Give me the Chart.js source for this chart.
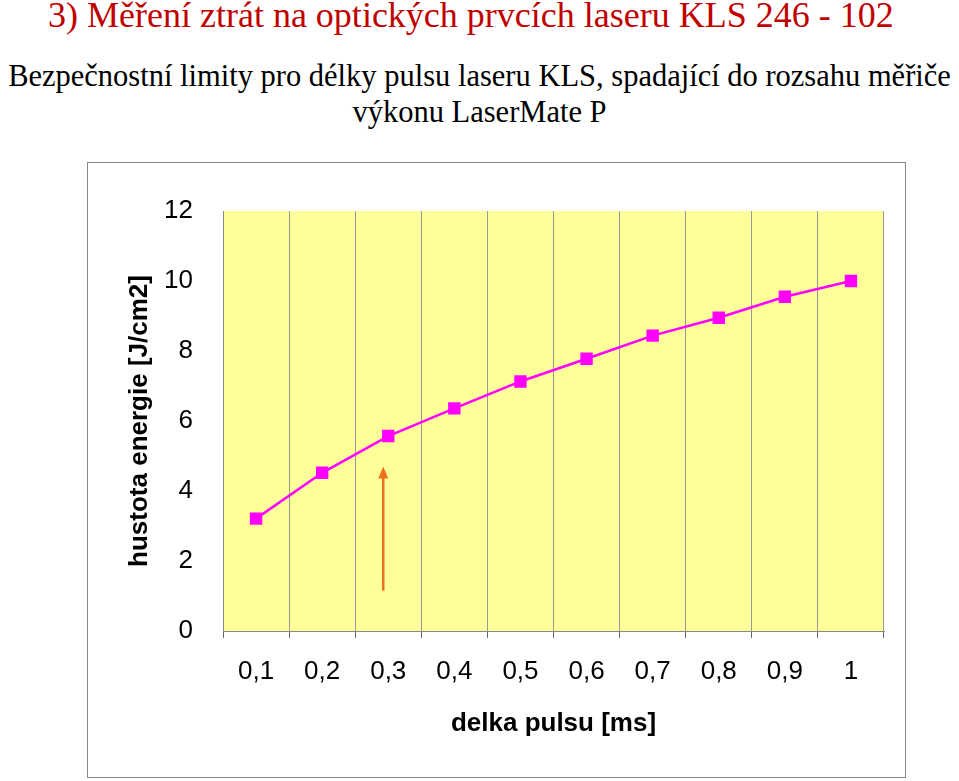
<!DOCTYPE html>
<html>
<head>
<meta charset="utf-8">
<script src="https://cdn.jsdelivr.net/npm/chart.js@4"></script>
<style>
  body { margin: 0; background: #fff; width: 959px; height: 781px; position: relative; overflow: hidden; }
  .title { position: absolute; left: 48px; top: -6px; font: 36px "Liberation Serif", serif; color: #c00000; white-space: nowrap; }
  .sub { position: absolute; left: 0; width: 959px; top: 58px; text-align: center; font: 30.5px/36px "Liberation Serif", serif; color: #000; white-space: nowrap; }
  .box { position: absolute; left: 87px; top: 162px; width: 819px; height: 616px; border: 1px solid #888; box-sizing: border-box; }
</style>
</head>
<body>
<div class="title">3) Měření ztrát na optických prvcích laseru KLS 246 - 102</div>
<div class="sub">Bezpečnostní limity pro délky pulsu laseru KLS, spadající do rozsahu měřiče<br>výkonu LaserMate P</div>
<div class="box"><canvas id="c" width="817" height="614"></canvas></div>
<script>
const pulseLengths = ['0,1', '0,2', '0,3', '0,4', '0,5', '0,6', '0,7', '0,8', '0,9', '1'];
const energyDensity = [3.21, 4.52, 5.57, 6.36, 7.13, 7.78, 8.44, 8.95, 9.55, 10.0];
// orange arrow under 0,3 ms: [category index, from, to]
const arrowMark = { index: 2, from: 1.15, to: 4.7 };

const bgPlugin = {
  id: 'bg',
  beforeDraw(chart) {
    const { ctx, chartArea: a } = chart;
    ctx.save();
    ctx.fillStyle = '#ffff99';
    ctx.fillRect(a.left, a.top, a.right - a.left, a.bottom - a.top);
    ctx.restore();
  },
  afterDatasetsDraw(chart) {
    const { ctx, scales } = chart;
    const x = scales.x.getPixelForValue(arrowMark.index) - 5;
    const y1 = scales.y.getPixelForValue(arrowMark.from);
    const y2 = scales.y.getPixelForValue(arrowMark.to);
    ctx.save();
    ctx.strokeStyle = '#f07020';
    ctx.fillStyle = '#f07020';
    ctx.lineWidth = 2.5;
    ctx.beginPath(); ctx.moveTo(x, y1); ctx.lineTo(x, y2 + 8); ctx.stroke();
    ctx.beginPath(); ctx.moveTo(x, y2); ctx.lineTo(x - 5, y2 + 12); ctx.lineTo(x + 5, y2 + 12); ctx.closePath(); ctx.fill();
    ctx.restore();
  }
};

new Chart(document.getElementById('c'), {
  type: 'line',
  data: {
    labels: pulseLengths,
    datasets: [{
      data: energyDensity,
      borderColor: '#ff00ff',
      backgroundColor: '#ff00ff',
      borderWidth: 2.5,
      pointStyle: 'rect',
      pointRadius: 7,
      pointHoverRadius: 7,
      tension: 0
    }]
  },
  options: {
    responsive: false,
    animation: false,
    layout: { padding: { top: 48, right: 21, left: 0, bottom: 0 } },
    plugins: { legend: { display: false }, tooltip: { enabled: false } },
    scales: {
      x: {
        offset: true,
        grid: { offset: true, color: '#999', lineWidth: 1, tickLength: 7, tickColor: '#666' },
        border: { color: '#888', width: 1 },
        ticks: { color: '#000', font: { family: 'Liberation Sans', size: 26 }, padding: 18, maxRotation: 0 },
        title: { display: true, text: 'delka pulsu [ms]', color: '#000', font: { family: 'Liberation Sans', size: 26, weight: 'bold' }, padding: { top: 0, bottom: 38 } },
        afterFit(s) { s.width; s.height = 146; }
      },
      y: {
        min: 0, max: 12,
        grid: { display: false },
        border: { color: '#888', width: 1 },
        ticks: { stepSize: 2, color: '#000', font: { family: 'Liberation Sans', size: 26 }, padding: 22 },
        title: { display: true, text: 'hustota energie [J/cm2]', color: '#000', font: { family: 'Liberation Sans', size: 26, weight: 'bold' }, padding: { top: 36, bottom: 0 } },
        afterFit(s) { s.width = 135; }
      }
    }
  },
  plugins: [bgPlugin]
});
</script>
</body>
</html>
